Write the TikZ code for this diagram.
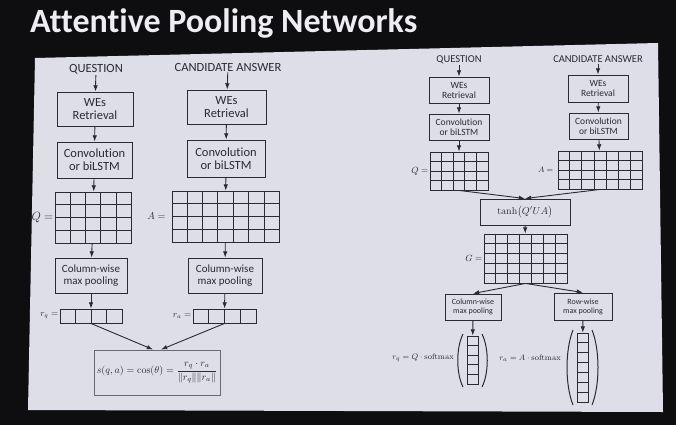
\documentclass[tikz,border=0pt]{standalone}
\usepackage[no-math]{fontspec}
\setmainfont[Ligatures=NoCommon]{Carlito}
\usepackage{amsmath}
\usepackage{tikz}
\usepackage{xcolor}
\usetikzlibrary{arrows.meta, positioning, calc}
\definecolor{slidebg}{HTML}{0E0E10}
\definecolor{panelgray}{HTML}{DEDEE8}
\definecolor{inkgray}{HTML}{2A2A32}
\definecolor{titlewhite}{HTML}{EDEDF2}

% inner lines of a cell grid: node, columns, rows
\newcommand{\cellgrid}[3]{%
  \foreach \i in {1,...,8}{\ifnum\i<#2 \draw[gridline] ($(#1.north west)!\i/#2!(#1.north east)$) -- ($(#1.south west)!\i/#2!(#1.south east)$);\fi}%
  \foreach \j in {1,...,8}{\ifnum\j<#3 \draw[gridline] ($(#1.north west)!\j/#3!(#1.south west)$) -- ($(#1.north east)!\j/#3!(#1.south east)$);\fi}%
}

\begin{document}
\begin{tikzpicture}[
    x=1pt, y=-1pt,
    box/.style={rectangle, draw=inkgray, line width=0.9pt, align=center, text=inkgray, inner sep=1pt},
    cellbox/.style={rectangle, draw=inkgray, line width=0.9pt, inner sep=0pt},
    gridline/.style={draw=inkgray, line width=0.8pt},
    head/.style={text=inkgray, inner sep=1pt},
    arrow/.style={-{Latex[length=2.2mm, width=1.6mm]}, line width=0.9pt, draw=inkgray},
    bigfont/.style={font=\fontsize{12.5}{13}\selectfont},
    smallfont/.style={font=\fontsize{9.5}{10}\selectfont}
]
\useasboundingbox (0,0) rectangle (676,425);
\fill[slidebg] (0,0) rectangle (676,425);
\fill[panelgray] (35,58) -- (658,43) -- (663,412) -- (28,410) -- cycle;
\node[anchor=base west, text=titlewhite, inner sep=0pt] (title) at (30,33) {\fontsize{34}{36}\selectfont\bfseries Attentive Pooling Networks};

% left: cosine similarity of pooled vectors
\node[head, bigfont] (lq) at (96,69) {QUESTION};
\node[head, bigfont] (la) at (228,67) {CANDIDATE ANSWER};
\node[box, bigfont, minimum width=76, minimum height=34] (lqwe) at (95,109) {WEs\\Retrieval};
\node[box, bigfont, minimum width=79, minimum height=34] (lawe) at (226.5,107) {WEs\\Retrieval};
\node[box, bigfont, minimum width=75, minimum height=36] (lqconv) at (94.5,160) {Convolution\\or biLSTM};
\node[box, bigfont, minimum width=78, minimum height=37] (laconv) at (226,158.5) {Convolution\\or biLSTM};
\node[cellbox, minimum width=76, minimum height=51] (lqgrid) at (93,217.5) {};
\node[cellbox, minimum width=107, minimum height=51] (lagrid) at (225.5,216.5) {};
\cellgrid{lqgrid}{5}{4}
\cellgrid{lagrid}{7}{4}
\node[head, anchor=east, font=\large] (lqlab) at (lqgrid.west) {$Q=$};
\node[head, anchor=east, xshift=-5pt] (lalab) at (lagrid.west) {$A=$};
\node[box, font=\fontsize{11}{12}\selectfont, minimum width=72, minimum height=35] (lqpool) at (91,275.5) {Column-wise\\max pooling};
\node[box, font=\fontsize{11}{12}\selectfont, minimum width=74, minimum height=35] (lapool) at (225,275.5) {Column-wise\\max pooling};
\node[cellbox, minimum width=62, minimum height=14] (lrq) at (91,316) {};
\node[cellbox, minimum width=63, minimum height=14] (lra) at (224.5,316) {};
\cellgrid{lrq}{4}{1}
\cellgrid{lra}{4}{1}
\node[head, anchor=east, font=\small] (lrqlab) at (lrq.west) {$r_q=$};
\node[head, anchor=east, font=\small] (lralab) at (lra.west) {$r_a=$};
\node[box, draw=inkgray!70, minimum width=126, minimum height=45, font=\normalsize] (cosbox) at (157,372.5)
  {$s(q,a)=\cos(\theta)=\dfrac{r_q\cdot r_a}{\|r_q\|\|r_a\|}$};

\draw[arrow] (lq) -- (lqwe);
\draw[arrow] (la) -- (lawe);
\draw[arrow] (lqwe) -- (lqconv);
\draw[arrow] (lawe) -- (laconv);
\draw[arrow] (lqconv) -- (lqgrid);
\draw[arrow] (laconv) -- (lagrid);
\draw[arrow] (lqgrid) -- (lqpool);
\draw[arrow] (lagrid) -- (lapool);
\draw[arrow] (lqpool) -- (lrq);
\draw[arrow] (lapool) -- (lra);
\draw[arrow] (lrq.south) -- ([xshift=-4pt]cosbox.north);
\draw[arrow] (lra.south) -- ([xshift=4pt]cosbox.north);

% right: attentive pooling
\node[head, font=\fontsize{10.5}{11}\selectfont] (rq) at (459,60) {QUESTION};
\node[head, font=\fontsize{10.5}{11}\selectfont] (ra) at (598,59) {CANDIDATE ANSWER};
\node[box, smallfont, minimum width=60, minimum height=26] (rqwe) at (459,90) {WEs\\Retrieval};
\node[box, smallfont, minimum width=60, minimum height=27] (rawe) at (598,88.5) {WEs\\Retrieval};
\node[box, smallfont, minimum width=60, minimum height=26] (rqconv) at (459,127) {Convolution\\or biLSTM};
\node[box, smallfont, minimum width=59, minimum height=26] (raconv) at (598.5,126) {Convolution\\or biLSTM};
\node[cellbox, minimum width=58, minimum height=38] (rqgrid) at (459,171) {};
\node[cellbox, minimum width=84, minimum height=38] (ragrid) at (600,170) {};
\cellgrid{rqgrid}{5}{4}
\cellgrid{ragrid}{7}{4}
\node[head, anchor=east, font=\small] (rqlab) at (rqgrid.west) {$Q=$};
\node[head, anchor=east, font=\footnotesize, xshift=-3pt] (ralab) at (ragrid.west) {$A=$};
\node[box, minimum width=90, minimum height=26, font=\normalsize] (tanhbox) at (525,212) {$\tanh\bigl(Q'UA\bigr)$};
\node[cellbox, minimum width=83, minimum height=49] (ggrid) at (525.5,258.5) {};
\cellgrid{ggrid}{7}{5}
\node[head, anchor=east, font=\small] (glab) at (ggrid.west) {$G=$};
\node[box, font=\fontsize{8}{9}\selectfont, minimum width=56, minimum height=26] (rcpool) at (473,307) {Column-wise\\max pooling};
\node[box, font=\fontsize{8}{9}\selectfont, minimum width=58, minimum height=27] (rrpool) at (583,306.5) {Row-wise\\max pooling};
\node[cellbox, minimum width=11, minimum height=48] (rqvec) at (472.5,360) {};
\node[cellbox, minimum width=11, minimum height=69] (ravec) at (582.5,367.5) {};
\cellgrid{rqvec}{1}{5}
\cellgrid{ravec}{1}{7}
\draw[inkgray, line width=1pt] (463,334) .. controls (456,348) and (456,373) .. (463,387);
\draw[inkgray, line width=1pt] (482,334) .. controls (489,348) and (489,373) .. (482,387);
\draw[inkgray, line width=1pt] (573,330) .. controls (565,350) and (565,385) .. (573,405);
\draw[inkgray, line width=1pt] (592,330) .. controls (600,350) and (600,385) .. (592,405);
\node[head, anchor=east, font=\footnotesize] (rqsoft) at (455,358) {$r_q=Q\cdot\mathrm{softmax}$};
\node[head, anchor=east, font=\footnotesize] (rasoft) at (562,358) {$r_a=A\cdot\mathrm{softmax}$};

\draw[arrow] (rq) -- (rqwe);
\draw[arrow] (ra) -- (rawe);
\draw[arrow] (rqwe) -- (rqconv);
\draw[arrow] (rawe) -- (raconv);
\draw[arrow] (rqconv) -- (rqgrid);
\draw[arrow] (raconv) -- (ragrid);
\draw[arrow] (rqgrid.south) -- (tanhbox.north);
\draw[arrow] (ragrid.south) -- (tanhbox.north);
\draw[arrow] (tanhbox) -- (ggrid);
\draw[arrow] (ggrid.south) -- (rcpool.north);
\draw[arrow] (ggrid.south) -- (rrpool.north);
\draw[arrow] (rcpool) -- (rqvec);
\draw[arrow] (rrpool) -- (ravec);
\end{tikzpicture}
\end{document}
